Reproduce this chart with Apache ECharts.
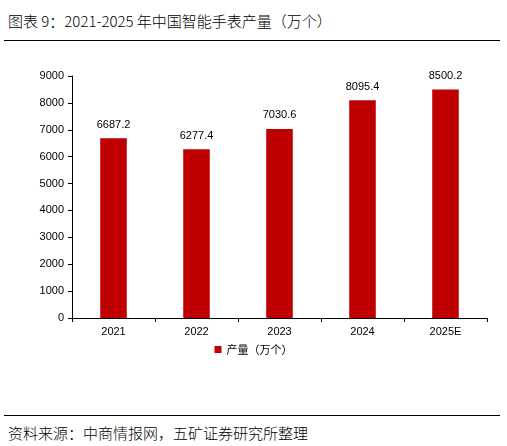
<!DOCTYPE html>
<html><head><meta charset="utf-8">
<script src="https://cdn.jsdelivr.net/npm/echarts@6/dist/echarts.min.js"></script>
<style>body{margin:0;background:#fff;font-family:"Noto Sans CJK SC",sans-serif}
#t{position:absolute;left:8px;top:10px;font-size:15px;color:#000;font-weight:300}
#l1{position:absolute;left:4px;top:40px;width:496px;border-top:1.5px solid #000}
#l2{position:absolute;left:4px;top:415px;width:496px;border-top:1.5px solid #000}
#s{position:absolute;left:8px;top:422px;font-size:15px;color:#000;font-weight:300}
#c{position:absolute;left:0;top:45px;width:507px;height:320px}</style></head>
<body><div id="t">图表 9：2021-2025 年中国智能手表产量（万个）</div><div id="l1"></div>
<div id="c"></div><div id="l2"></div><div id="s">资料来源：中商情报网，五矿证券研究所整理</div>
<script>
const categories=['2021','2022','2023','2024','2025E'];
const values=[6687.2,6277.4,7030.6,8095.4,8500.2];
const ch=echarts.init(document.getElementById('c'));
ch.setOption({
 grid:{left:72,right:20,top:31,bottom:47},
 legend:{bottom:5,itemWidth:7,itemHeight:7,icon:'rect',textStyle:{fontSize:11,color:'#000',fontFamily:'Noto Sans CJK SC'},data:['产量（万个）']},
 xAxis:{type:'category',data:categories,axisTick:{show:true,alignWithLabel:false,length:4,lineStyle:{color:'#000'}},axisLine:{lineStyle:{color:'#000'}},axisLabel:{color:'#000',fontSize:11,fontFamily:'Liberation Sans'}},
 yAxis:{type:'value',min:0,max:9000,interval:1000,splitLine:{show:false},axisLine:{show:true,lineStyle:{color:'#000'}},axisTick:{show:true,length:4,lineStyle:{color:'#000'}},axisLabel:{color:'#000',fontSize:11,fontFamily:'Liberation Sans',formatter:v=>String(v)}},
 series:[{name:'产量（万个）',type:'bar',data:values,barWidth:'32%',itemStyle:{color:'#C00000'},
  label:{show:true,position:'top',distance:8,color:'#000',fontSize:11,fontFamily:'Liberation Sans',formatter:p=>p.value.toFixed(1)}}]
});
</script></body></html>
